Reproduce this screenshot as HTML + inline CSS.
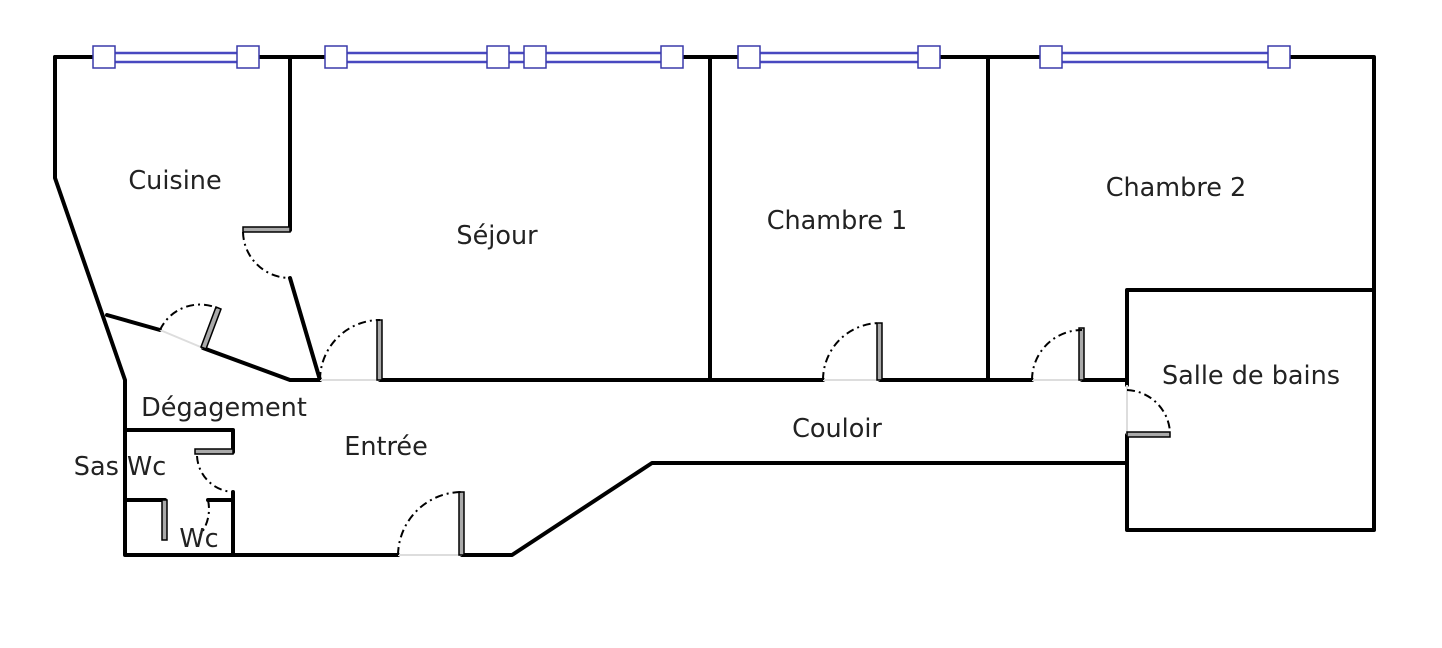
<!DOCTYPE html>
<html><head><meta charset="utf-8"><style>
html,body{margin:0;padding:0;background:#fff;width:1442px;height:648px;overflow:hidden}
svg{display:block}
text{font-family:"DejaVu Sans","Liberation Sans",sans-serif;font-size:25.5px;fill:#222}
</style></head><body>
<svg width="1442" height="648" viewBox="0 0 1442 648">
<g fill="none" stroke="#000" stroke-width="4" stroke-linejoin="round" stroke-linecap="round">
<polyline points="55,57 1374,57 1374,530 1127,530 1127,435"/>
<polyline points="1127,385 1127,290 1374,290"/>
<polyline points="1127,463 652,463 512,555 462,555"/>
<polyline points="398,555 125,555 125,380 55,178 55,57"/>
<polyline points="107,315 160,330"/>
<polyline points="203,348 290,380 320,380"/>
<polyline points="290,57 290,230"/>
<polyline points="290,278 320,380"/>
<polyline points="380,380 823,380"/>
<polyline points="880,380 1032,380"/>
<polyline points="1082,380 1127,380"/>
<line x1="710" y1="57" x2="710" y2="380"/>
<line x1="988" y1="57" x2="988" y2="380"/>
<polyline points="125,430 233,430 233,452"/>
<polyline points="233,492 233,555"/>
<polyline points="125,500 165,500"/>
<polyline points="208,500 233,500"/>
</g>
<g stroke="#ddd" stroke-width="2">
<line x1="320" y1="380" x2="380" y2="380"/><line x1="823" y1="380" x2="880" y2="380"/>
<line x1="1032" y1="380" x2="1082" y2="380"/><line x1="398" y1="555" x2="462" y2="555"/>
<line x1="1127" y1="385" x2="1127" y2="435"/><line x1="160" y1="330" x2="203" y2="348"/>
</g>
<g fill="#aaa" stroke="#000" stroke-width="1.5">
<rect x="377" y="320" width="5" height="60"/>
<rect x="877" y="323" width="5" height="57"/>
<rect x="1079" y="328" width="5" height="52"/>
<rect x="459" y="492" width="5" height="63"/>
<rect x="1127" y="432" width="43" height="5"/>
<rect x="243" y="227" width="47" height="5"/>
<rect x="195" y="449" width="38" height="5"/>
<rect x="162" y="500" width="5" height="40"/>
<polygon points="201,347 206,349 221,309 216,307"/>
</g>
<g fill="none" stroke="#000" stroke-width="2" stroke-dasharray="8,4,2,4">
<path d="M320,380 A60,60 0 0 1 380,320"/>
<path d="M823,380 A57,57 0 0 1 880,323"/>
<path d="M1032,380 A50,50 0 0 1 1082,330"/>
<path d="M398,555 A64,64 0 0 1 462,492"/>
<path d="M1127,390 A45,45 0 0 1 1170,432"/>
<path d="M243,232 A47,47 0 0 0 290,278"/>
<path d="M160,330 A44,44 0 0 1 217,308"/>
<path d="M197,456 A38,38 0 0 0 233,492"/>
<path d="M208,500 A42,42 0 0 1 200,535"/>
</g>
<g fill="#fff" stroke="none">
<rect x="103" y="52" width="145" height="11"/><rect x="335" y="52" width="337" height="11"/>
<rect x="748" y="52" width="180" height="11"/><rect x="1050" y="52" width="228" height="11"/>
</g>
<g stroke="#4848c0" stroke-width="2.5" fill="none">
<line x1="103" y1="53" x2="248" y2="53"/><line x1="103" y1="62" x2="248" y2="62"/>
<line x1="335" y1="53" x2="672" y2="53"/><line x1="335" y1="62" x2="672" y2="62"/>
<line x1="748" y1="53" x2="928" y2="53"/><line x1="748" y1="62" x2="928" y2="62"/>
<line x1="1050" y1="53" x2="1278" y2="53"/><line x1="1050" y1="62" x2="1278" y2="62"/>
</g>
<g stroke="#3a3aaa" stroke-width="1.5" fill="#fff">
<rect x="93" y="46" width="22" height="22"/><rect x="237" y="46" width="22" height="22"/>
<rect x="325" y="46" width="22" height="22"/><rect x="487" y="46" width="22" height="22"/>
<rect x="524" y="46" width="22" height="22"/><rect x="661" y="46" width="22" height="22"/>
<rect x="738" y="46" width="22" height="22"/><rect x="918" y="46" width="22" height="22"/>
<rect x="1040" y="46" width="22" height="22"/><rect x="1268" y="46" width="22" height="22"/>
</g>
<g text-anchor="middle">
<text x="175" y="189">Cuisine</text>
<text x="497" y="244">Séjour</text>
<text x="837" y="229">Chambre 1</text>
<text x="1176" y="196">Chambre 2</text>
<text x="1251" y="384">Salle de bains</text>
<text x="224" y="416">Dégagement</text>
<text x="386" y="455">Entrée</text>
<text x="837" y="437">Couloir</text>
<text x="120" y="475">Sas Wc</text>
<text x="199" y="547">Wc</text>
</g>
</svg>
</body></html>
